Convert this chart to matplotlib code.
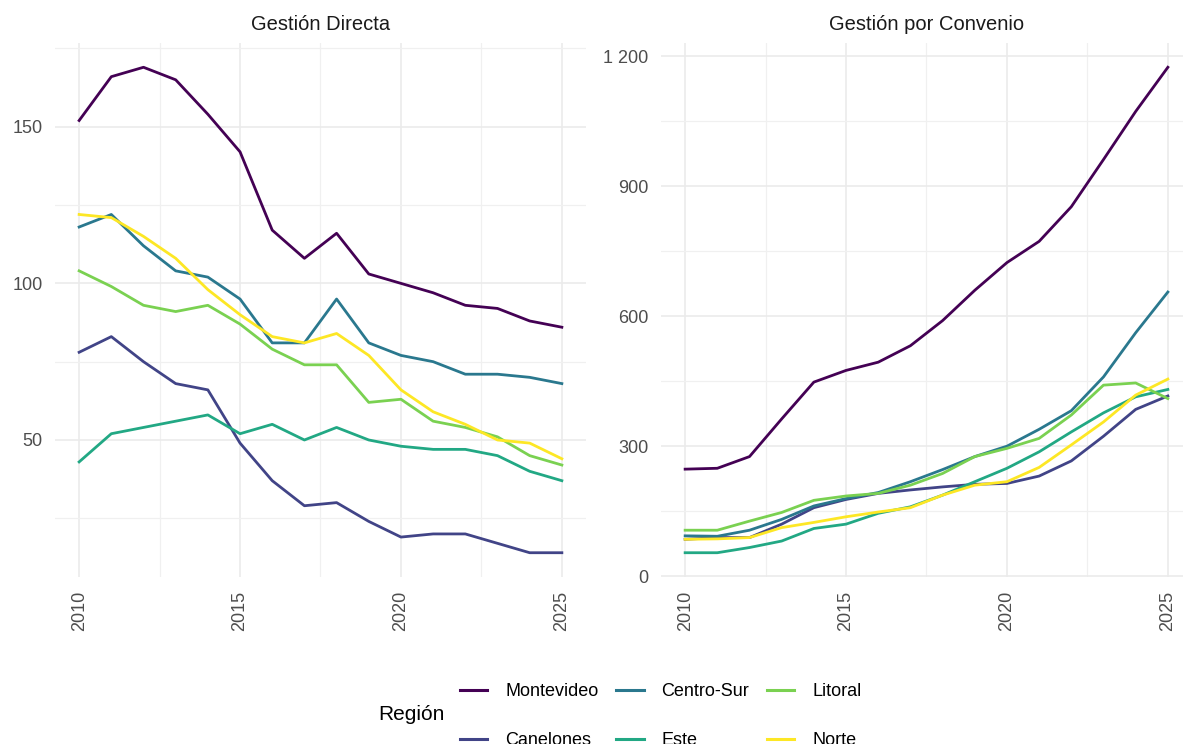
import numpy as np
import matplotlib
matplotlib.use('Agg')
import matplotlib.pyplot as plt
from matplotlib.ticker import MultipleLocator, FuncFormatter
from matplotlib.lines import Line2D

plt.rcParams['font.family'] = ['Liberation Sans', 'DejaVu Sans']

years = [2010, 2011, 2012, 2013, 2014, 2015, 2016, 2017,
         2018, 2019, 2020, 2021, 2022, 2023, 2024, 2025]
regions = ['Montevideo', 'Canelones', 'Centro-Sur', 'Este', 'Litoral', 'Norte']
colors = ['#440154', '#414487', '#2A788E', '#22A884', '#7AD151', '#FDE725']
panel_titles = ['Gestión Directa', 'Gestión por Convenio']
legend_title = 'Región'

# Gestion Directa
directa_montevideo = [152, 166, 169, 165, 154, 142, 117, 108, 116, 103, 100, 97, 93, 92, 88, 86]
directa_canelones = [78, 83, 75, 68, 66, 49, 37, 29, 30, 24, 19, 20, 20, 17, 14, 14]
directa_centro_sur = [118, 122, 112, 104, 102, 95, 81, 81, 95, 81, 77, 75, 71, 71, 70, 68]
directa_este = [43, 52, 54, 56, 58, 52, 55, 50, 54, 50, 48, 47, 47, 45, 40, 37]
directa_litoral = [104, 99, 93, 91, 93, 87, 79, 74, 74, 62, 63, 56, 54, 51, 45, 42]
directa_norte = [122, 121, 115, 108, 98, 90, 83, 81, 84, 77, 66, 59, 55, 50, 49, 44]

# Gestion por Convenio
convenio_montevideo = [247, 249, 276, 363, 448, 475, 494, 532, 590, 660, 724, 773, 853, 962, 1073, 1175]
convenio_canelones = [85, 89, 89, 120, 158, 177, 191, 199, 206, 212, 214, 231, 266, 323, 385, 416]
convenio_centro_sur = [93, 92, 106, 131, 162, 179, 193, 218, 246, 276, 300, 339, 382, 460, 562, 656]
convenio_este = [54, 54, 66, 81, 110, 120, 145, 160, 187, 218, 249, 287, 333, 377, 414, 431]
convenio_litoral = [106, 106, 127, 147, 175, 185, 191, 210, 237, 276, 295, 318, 372, 441, 446, 410]
convenio_norte = [85, 86, 89, 112, 124, 137, 148, 158, 187, 210, 218, 251, 303, 356, 418, 455]

directa = [directa_montevideo, directa_canelones, directa_centro_sur,
           directa_este, directa_litoral, directa_norte]
convenio = [convenio_montevideo, convenio_canelones, convenio_centro_sur,
            convenio_este, convenio_litoral, convenio_norte]

W, H = 1183, 744
fig = plt.figure(figsize=(W / 100, H / 100), dpi=100)
fig.patch.set_facecolor('white')

ax1 = fig.add_axes([55 / W, 1 - 577 / H, 531 / W, 534 / H])
ax2 = fig.add_axes([661 / W, 1 - 577 / H, 531 / W, 534 / H])


def style(ax, title, major, minor):
    ax.set_title(title, fontsize=14.5, color='#1A1A1A', pad=9)
    for s in ax.spines.values():
        s.set_visible(False)
    ax.xaxis.set_major_locator(MultipleLocator(5))
    ax.xaxis.set_minor_locator(MultipleLocator(2.5))
    ax.yaxis.set_major_locator(MultipleLocator(major))
    ax.yaxis.set_minor_locator(MultipleLocator(minor))
    ax.grid(which='major', color='#EBEBEB', lw=1.2)
    ax.grid(which='minor', color='#F0F0F0', lw=0.9)
    ax.set_axisbelow(True)
    ax.tick_params(which='both', length=0)
    ax.tick_params(axis='y', labelsize=13, labelcolor='#4D4D4D', pad=9)
    ax.tick_params(axis='x', labelsize=13, labelcolor='#4D4D4D', pad=10, labelrotation=90)
    ax.margins(x=0.05, y=0.05)


for i in range(len(regions)):
    ax1.plot(years, directa[i], color=colors[i], lw=2.0)
    ax2.plot(years, convenio[i], color=colors[i], lw=2.0)

style(ax1, panel_titles[0], 50, 25)
style(ax2, panel_titles[1], 300, 150)
ax2.yaxis.set_major_formatter(FuncFormatter(lambda v, p: '{:,.0f}'.format(v).replace(',', ' ')))

handles = [Line2D([], [], color=c, lw=2.2) for c in colors]
fig.legend(handles, regions, ncol=3, loc='upper left', bbox_to_anchor=(460 / W, 1 - 683 / H),
           frameon=False, fontsize=13, borderpad=0, borderaxespad=0,
           handlelength=1.5, handletextpad=1.0, columnspacing=1.0, labelspacing=1.78)
fig.text(378 / W, 1 - 715 / H, legend_title, fontsize=15, va='center', ha='left')

plt.savefig('out.png', dpi=100)
